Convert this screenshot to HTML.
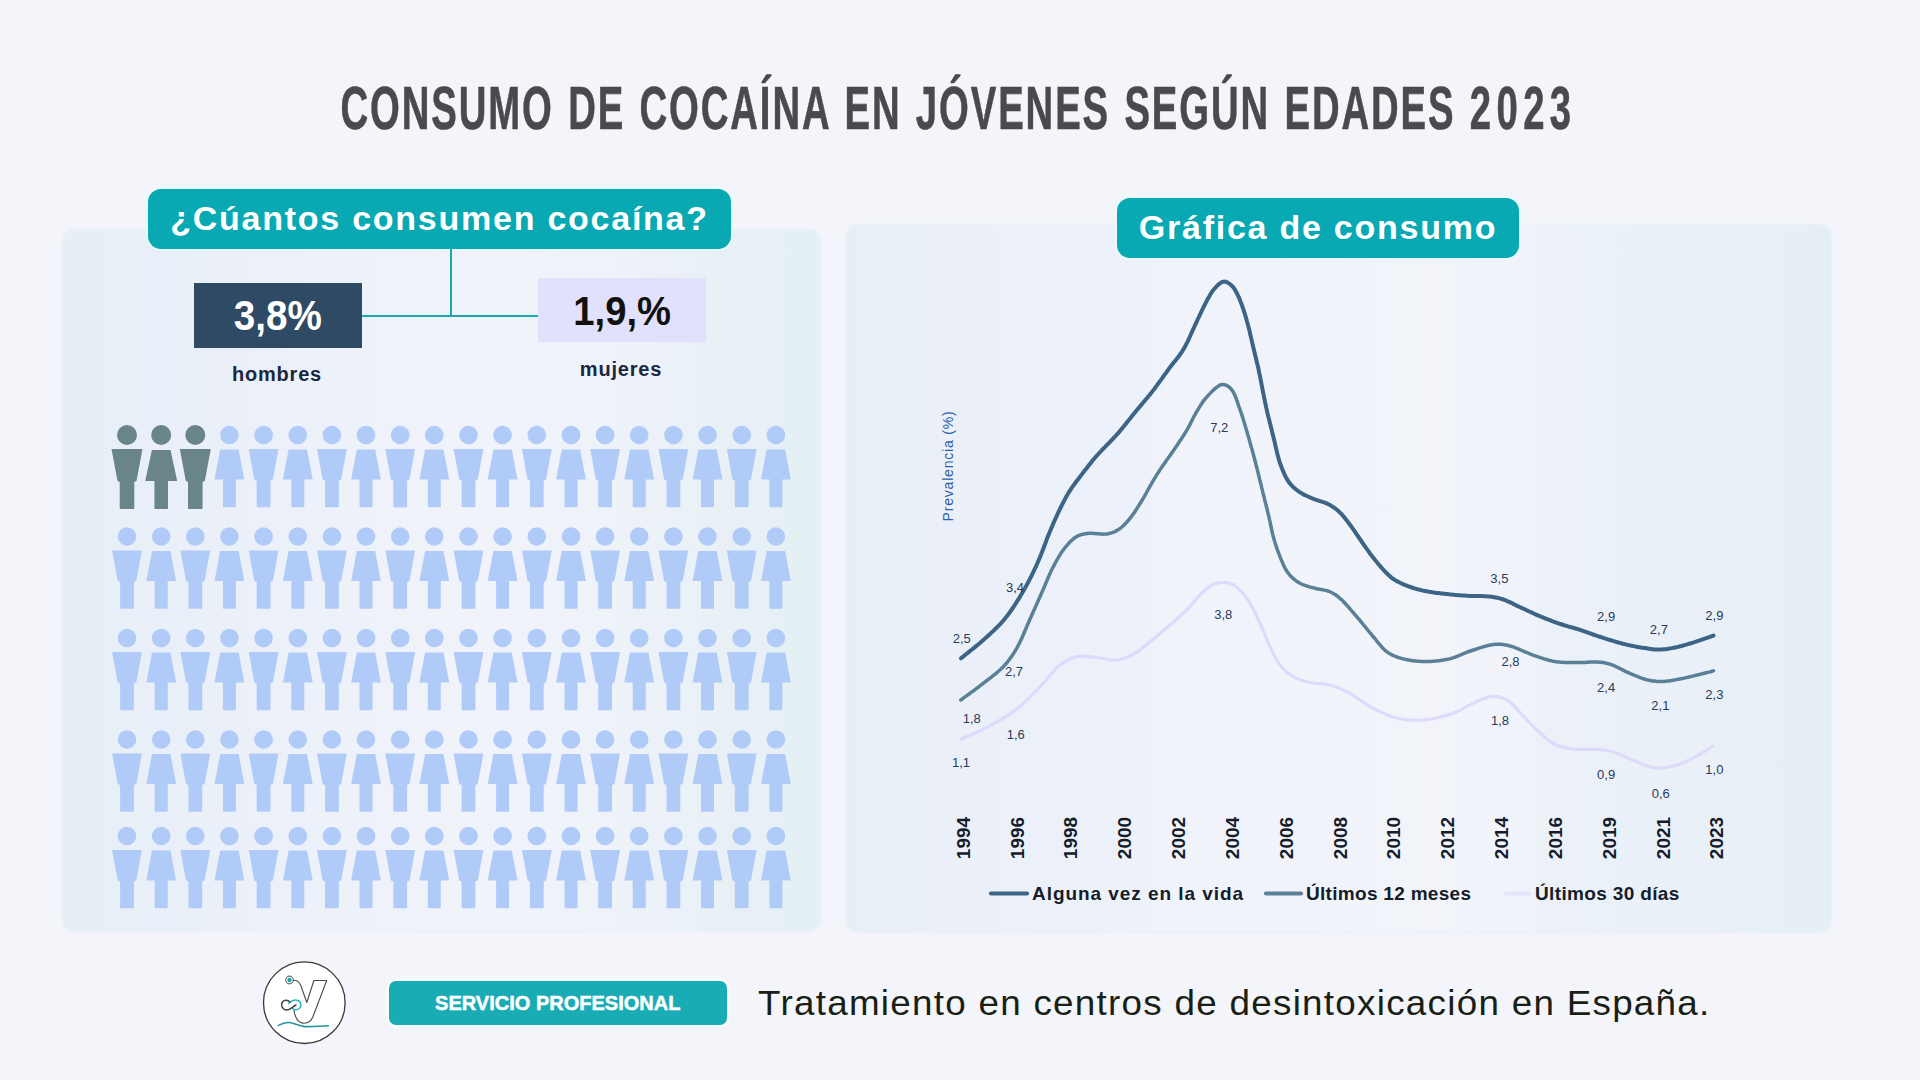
<!DOCTYPE html>
<html><head><meta charset="utf-8">
<style>
*{margin:0;padding:0;box-sizing:border-box}
html,body{width:1920px;height:1080px;overflow:hidden;background:#f4f5fb;font-family:"Liberation Sans",sans-serif}
.abs{position:absolute}
#title{position:absolute;left:-24px;top:70px;width:1920px;text-align:center;font-weight:bold;font-size:61px;color:#4a4a4d;line-height:76px;white-space:nowrap}
#title span{display:inline-block;transform:scaleX(0.628);transform-origin:center;-webkit-text-stroke:0.6px #4a4a4d;word-spacing:3px;letter-spacing:3px}
.panel{position:absolute;border-radius:12px;box-shadow:0 0 2px 0.5px rgba(228,238,245,0.9)}
#p1{background:linear-gradient(90deg,#e4f0f5 0%,#e7eff6 3%,#e9eff8 12%,#edf1f9 35%,#f1f3fa 55%,#eef2f9 72%,#e8f0f6 88%,#e4f0f5 100%)}
#p2{background:linear-gradient(90deg,#e4f0f5 0%,#e8eff7 3%,#ebf0f8 10%,#edf1f9 30%,#f1f3fa 32.5%,#f2f4fa 60%,#f1f3fa 69%,#ecf1f8 70.5%,#e9f0f7 88%,#e4eff5 100%)}
.tag{position:absolute;background:#08a9b3;border-radius:13px;color:#fff;font-weight:bold;text-align:center;box-shadow:0 0 0 2px #e8fafb;white-space:nowrap}
.box{position:absolute;font-weight:bold;text-align:center}
.lbl{position:absolute;font-weight:bold;color:#1a2740;text-align:center;white-space:nowrap;letter-spacing:0.8px}
svg{position:absolute;left:0;top:0}
.l{fill:#b1cbf9}
.d{fill:#6a8589}
</style></head><body>
<div id="title"><span>CONSUMO DE COCAÍNA EN JÓVENES SEGÚN EDADES <b style="letter-spacing:8.5px;margin-right:-8.5px">2023</b></span></div>
<div class="panel" id="p1" style="left:63px;top:230px;width:757px;height:701px"></div>
<div class="panel" id="p2" style="left:847px;top:225px;width:984px;height:707px"></div>
<div class="tag" style="left:148px;top:189px;width:583px;height:60px;font-size:34px;line-height:58px;letter-spacing:1.75px">¿Cúantos consumen cocaína?</div>
<div class="tag" style="left:1117px;top:198px;width:402px;height:60px;font-size:34px;line-height:58px;letter-spacing:1.75px">Gráfica de consumo</div>
<div class="abs" style="left:450px;top:249px;width:1.5px;height:67px;background:#1aa6ae"></div>
<div class="abs" style="left:362px;top:315px;width:177px;height:1.5px;background:#1aa6ae"></div>
<div class="box" style="left:194px;top:283px;width:168px;height:65px;background:#2f4a64;color:#fff;font-size:42px;line-height:65px"><span style="display:inline-block;transform:scaleX(0.92);position:relative;top:0px">3,8%</span></div>
<div class="box" style="left:538px;top:278px;width:168px;height:64px;background:#e2e1fb;color:#111;font-size:40px;line-height:64px"><span style="display:inline-block;transform:scaleX(0.955);position:relative;top:0.5px">1,9,%</span></div>
<div class="lbl" style="left:197px;top:360px;width:160px;font-size:20px;line-height:28px">hombres</div>
<div class="lbl" style="left:541px;top:355px;width:160px;font-size:20px;line-height:28px">mujeres</div>
<svg width="1920" height="1080" viewBox="0 0 1920 1080">
<defs>
<g id="m"><circle cx="0" cy="0" r="9.3"/><path d="M-14.9,14 L14.9,14 L9.3,44.5 L6.9,45.5 L6.9,71.3 Q6.9,72.3 5.9,72.3 L-5.9,72.3 Q-6.9,72.3 -6.9,71.3 L-6.9,45.5 L-9.3,44.5 Z"/></g>
<g id="f"><circle cx="0" cy="0" r="9.3"/><path d="M-9.2,14.5 L9.2,14.5 L14.9,44.5 L6.5,44.5 L6.5,71.3 Q6.5,72.3 5.5,72.3 L-5.5,72.3 Q-6.5,72.3 -6.5,71.3 L-6.5,44.5 L-14.9,44.5 Z"/></g>
<g id="md"><circle cx="0" cy="0" r="10"/><path d="M-15.5,14 L15.5,14 L9.5,46 L7.3,47 L7.3,73 Q7.3,74 6.3,74 L-6.3,74 Q-7.3,74 -7.3,73 L-7.3,47 L-9.5,46 Z"/></g>
<g id="fd"><circle cx="0" cy="0" r="10"/><path d="M-9.3,15 L9.3,15 L16,46 L6.8,46 L6.8,73 Q6.8,74 5.8,74 L-5.8,74 Q-6.8,74 -6.8,73 L-6.8,46 L-16,46 Z"/></g>
</defs>
<style>
.v{font-family:"Liberation Sans",sans-serif;font-size:13px;fill:#2a3a58;text-anchor:middle}
.yr{font-family:"Liberation Sans",sans-serif;font-size:19px;font-weight:bold;fill:#151d2a;text-anchor:middle}
.pv{font-family:"Liberation Sans",sans-serif;font-size:14px;fill:#2c5fab;text-anchor:middle}
.lg{font-family:"Liberation Sans",sans-serif;font-size:19px;font-weight:bold;fill:#151d2a}
</style>
<use href="#md" x="127.0" y="435.0" class="d"/>
<use href="#fd" x="161.2" y="435.0" class="d"/>
<use href="#md" x="195.3" y="435.0" class="d"/>
<use href="#f" x="229.4" y="435.0" class="l"/>
<use href="#m" x="263.6" y="435.0" class="l"/>
<use href="#f" x="297.8" y="435.0" class="l"/>
<use href="#m" x="331.9" y="435.0" class="l"/>
<use href="#f" x="366.0" y="435.0" class="l"/>
<use href="#m" x="400.2" y="435.0" class="l"/>
<use href="#f" x="434.3" y="435.0" class="l"/>
<use href="#m" x="468.5" y="435.0" class="l"/>
<use href="#f" x="502.6" y="435.0" class="l"/>
<use href="#m" x="536.8" y="435.0" class="l"/>
<use href="#f" x="571.0" y="435.0" class="l"/>
<use href="#m" x="605.1" y="435.0" class="l"/>
<use href="#f" x="639.2" y="435.0" class="l"/>
<use href="#m" x="673.4" y="435.0" class="l"/>
<use href="#f" x="707.5" y="435.0" class="l"/>
<use href="#m" x="741.7" y="435.0" class="l"/>
<use href="#f" x="775.9" y="435.0" class="l"/>
<use href="#m" x="127.0" y="536.5" class="l"/>
<use href="#f" x="161.2" y="536.5" class="l"/>
<use href="#m" x="195.3" y="536.5" class="l"/>
<use href="#f" x="229.4" y="536.5" class="l"/>
<use href="#m" x="263.6" y="536.5" class="l"/>
<use href="#f" x="297.8" y="536.5" class="l"/>
<use href="#m" x="331.9" y="536.5" class="l"/>
<use href="#f" x="366.0" y="536.5" class="l"/>
<use href="#m" x="400.2" y="536.5" class="l"/>
<use href="#f" x="434.3" y="536.5" class="l"/>
<use href="#m" x="468.5" y="536.5" class="l"/>
<use href="#f" x="502.6" y="536.5" class="l"/>
<use href="#m" x="536.8" y="536.5" class="l"/>
<use href="#f" x="571.0" y="536.5" class="l"/>
<use href="#m" x="605.1" y="536.5" class="l"/>
<use href="#f" x="639.2" y="536.5" class="l"/>
<use href="#m" x="673.4" y="536.5" class="l"/>
<use href="#f" x="707.5" y="536.5" class="l"/>
<use href="#m" x="741.7" y="536.5" class="l"/>
<use href="#f" x="775.9" y="536.5" class="l"/>
<use href="#m" x="127.0" y="638.0" class="l"/>
<use href="#f" x="161.2" y="638.0" class="l"/>
<use href="#m" x="195.3" y="638.0" class="l"/>
<use href="#f" x="229.4" y="638.0" class="l"/>
<use href="#m" x="263.6" y="638.0" class="l"/>
<use href="#f" x="297.8" y="638.0" class="l"/>
<use href="#m" x="331.9" y="638.0" class="l"/>
<use href="#f" x="366.0" y="638.0" class="l"/>
<use href="#m" x="400.2" y="638.0" class="l"/>
<use href="#f" x="434.3" y="638.0" class="l"/>
<use href="#m" x="468.5" y="638.0" class="l"/>
<use href="#f" x="502.6" y="638.0" class="l"/>
<use href="#m" x="536.8" y="638.0" class="l"/>
<use href="#f" x="571.0" y="638.0" class="l"/>
<use href="#m" x="605.1" y="638.0" class="l"/>
<use href="#f" x="639.2" y="638.0" class="l"/>
<use href="#m" x="673.4" y="638.0" class="l"/>
<use href="#f" x="707.5" y="638.0" class="l"/>
<use href="#m" x="741.7" y="638.0" class="l"/>
<use href="#f" x="775.9" y="638.0" class="l"/>
<use href="#m" x="127.0" y="739.5" class="l"/>
<use href="#f" x="161.2" y="739.5" class="l"/>
<use href="#m" x="195.3" y="739.5" class="l"/>
<use href="#f" x="229.4" y="739.5" class="l"/>
<use href="#m" x="263.6" y="739.5" class="l"/>
<use href="#f" x="297.8" y="739.5" class="l"/>
<use href="#m" x="331.9" y="739.5" class="l"/>
<use href="#f" x="366.0" y="739.5" class="l"/>
<use href="#m" x="400.2" y="739.5" class="l"/>
<use href="#f" x="434.3" y="739.5" class="l"/>
<use href="#m" x="468.5" y="739.5" class="l"/>
<use href="#f" x="502.6" y="739.5" class="l"/>
<use href="#m" x="536.8" y="739.5" class="l"/>
<use href="#f" x="571.0" y="739.5" class="l"/>
<use href="#m" x="605.1" y="739.5" class="l"/>
<use href="#f" x="639.2" y="739.5" class="l"/>
<use href="#m" x="673.4" y="739.5" class="l"/>
<use href="#f" x="707.5" y="739.5" class="l"/>
<use href="#m" x="741.7" y="739.5" class="l"/>
<use href="#f" x="775.9" y="739.5" class="l"/>
<use href="#m" x="127.0" y="836.0" class="l"/>
<use href="#f" x="161.2" y="836.0" class="l"/>
<use href="#m" x="195.3" y="836.0" class="l"/>
<use href="#f" x="229.4" y="836.0" class="l"/>
<use href="#m" x="263.6" y="836.0" class="l"/>
<use href="#f" x="297.8" y="836.0" class="l"/>
<use href="#m" x="331.9" y="836.0" class="l"/>
<use href="#f" x="366.0" y="836.0" class="l"/>
<use href="#m" x="400.2" y="836.0" class="l"/>
<use href="#f" x="434.3" y="836.0" class="l"/>
<use href="#m" x="468.5" y="836.0" class="l"/>
<use href="#f" x="502.6" y="836.0" class="l"/>
<use href="#m" x="536.8" y="836.0" class="l"/>
<use href="#f" x="571.0" y="836.0" class="l"/>
<use href="#m" x="605.1" y="836.0" class="l"/>
<use href="#f" x="639.2" y="836.0" class="l"/>
<use href="#m" x="673.4" y="836.0" class="l"/>
<use href="#f" x="707.5" y="836.0" class="l"/>
<use href="#m" x="741.7" y="836.0" class="l"/>
<use href="#f" x="775.9" y="836.0" class="l"/>
<path d="M960.8,739.2 L962.2,738.6 L963.6,738.0 L965.0,737.4 L966.4,736.8 L967.8,736.2 L969.2,735.6 L970.6,735.0 L972.0,734.4 L973.4,733.8 L974.8,733.2 L976.2,732.5 L977.6,731.9 L979.0,731.3 L980.5,730.6 L981.9,729.9 L983.3,729.2 L984.6,728.5 L985.9,727.9 L987.3,727.2 L988.6,726.5 L990.0,725.7 L991.3,725.0 L992.7,724.3 L994.1,723.5 L995.4,722.8 L996.8,722.0 L998.2,721.3 L999.5,720.5 L1000.8,719.7 L1002.1,718.9 L1003.4,718.1 L1004.7,717.4 L1005.9,716.6 L1007.1,715.8 L1008.4,715.0 L1009.6,714.1 L1010.9,713.2 L1012.2,712.3 L1013.4,711.4 L1014.6,710.5 L1015.8,709.5 L1016.9,708.6 L1018.1,707.7 L1019.2,706.7 L1020.4,705.8 L1021.5,704.8 L1022.7,703.8 L1023.8,702.7 L1025.0,701.7 L1026.1,700.7 L1027.2,699.7 L1028.3,698.7 L1029.3,697.6 L1030.4,696.6 L1031.5,695.5 L1032.6,694.4 L1033.7,693.3 L1034.8,692.2 L1035.9,691.1 L1036.9,690.0 L1038.0,688.9 L1039.1,687.7 L1040.1,686.6 L1041.2,685.5 L1042.3,684.4 L1043.3,683.3 L1044.4,682.1 L1045.4,681.0 L1046.5,679.7 L1047.5,678.5 L1048.5,677.3 L1049.5,676.1 L1050.5,674.8 L1051.6,673.6 L1052.6,672.4 L1053.6,671.2 L1054.6,670.1 L1055.7,668.9 L1056.7,667.9 L1057.8,666.9 L1058.9,665.9 L1060.1,665.0 L1061.3,664.0 L1062.6,663.1 L1064.0,662.2 L1065.3,661.4 L1066.7,660.6 L1068.1,659.9 L1069.5,659.2 L1070.9,658.6 L1072.3,658.0 L1073.8,657.5 L1075.2,657.1 L1076.7,656.7 L1078.2,656.5 L1079.6,656.3 L1081.1,656.2 L1082.7,656.2 L1084.2,656.3 L1085.8,656.4 L1087.3,656.5 L1088.9,656.6 L1090.5,656.8 L1092.0,657.0 L1093.6,657.2 L1095.2,657.3 L1096.7,657.5 L1098.3,657.7 L1099.8,657.9 L1101.4,658.2 L1102.9,658.4 L1104.5,658.7 L1106.1,659.0 L1107.6,659.3 L1109.2,659.6 L1110.7,659.8 L1112.2,660.0 L1113.7,660.1 L1115.2,660.0 L1116.7,659.9 L1118.3,659.7 L1119.8,659.5 L1121.4,659.1 L1122.9,658.7 L1124.4,658.2 L1125.9,657.6 L1127.4,657.0 L1128.9,656.4 L1130.4,655.7 L1131.8,654.9 L1133.3,654.2 L1134.6,653.4 L1135.9,652.6 L1137.2,651.8 L1138.5,650.9 L1139.8,649.9 L1141.0,649.0 L1142.3,648.0 L1143.6,647.0 L1144.8,645.9 L1146.1,644.9 L1147.4,643.8 L1148.7,642.8 L1149.9,641.8 L1151.1,640.8 L1152.3,639.9 L1153.5,638.9 L1154.6,638.0 L1155.8,637.0 L1157.0,636.0 L1158.2,635.0 L1159.4,634.1 L1160.6,633.1 L1161.8,632.0 L1163.0,631.0 L1164.2,630.0 L1165.3,629.0 L1166.5,628.0 L1167.7,627.0 L1168.9,626.0 L1170.0,625.0 L1171.2,624.0 L1172.4,622.9 L1173.5,621.9 L1174.7,620.9 L1175.9,619.9 L1177.0,618.8 L1178.2,617.8 L1179.3,616.8 L1180.5,615.7 L1181.6,614.7 L1182.7,613.6 L1183.9,612.6 L1185.0,611.5 L1186.1,610.5 L1187.2,609.4 L1188.3,608.3 L1189.4,607.2 L1190.5,606.0 L1191.5,604.8 L1192.6,603.6 L1193.7,602.3 L1194.7,601.1 L1195.8,599.8 L1196.8,598.6 L1197.8,597.4 L1198.9,596.2 L1199.9,595.0 L1200.9,593.9 L1202.0,592.8 L1203.0,591.8 L1204.0,590.9 L1205.2,589.9 L1206.5,588.9 L1207.9,587.8 L1209.3,586.8 L1210.8,585.9 L1212.2,585.1 L1213.7,584.4 L1215.2,583.8 L1216.7,583.4 L1218.3,583.0 L1220.0,582.7 L1221.7,582.5 L1223.4,582.5 L1225.1,582.5 L1226.8,582.7 L1228.4,583.0 L1229.9,583.4 L1231.4,583.9 L1232.7,584.5 L1234.0,585.2 L1235.2,586.0 L1236.5,586.9 L1237.6,587.9 L1238.8,588.9 L1239.9,590.0 L1241.0,591.0 L1241.9,592.0 L1242.9,593.1 L1243.8,594.3 L1244.7,595.5 L1245.6,596.7 L1246.5,598.0 L1247.4,599.3 L1248.3,600.6 L1249.1,601.9 L1250.0,603.3 L1250.8,604.6 L1251.5,605.9 L1252.3,607.2 L1253.0,608.6 L1253.7,610.0 L1254.4,611.4 L1255.1,612.9 L1255.8,614.3 L1256.5,615.8 L1257.2,617.3 L1257.9,618.8 L1258.6,620.3 L1259.3,621.8 L1260.0,623.3 L1260.6,624.7 L1261.3,626.2 L1261.9,627.6 L1262.5,629.1 L1263.1,630.6 L1263.8,632.1 L1264.4,633.6 L1265.0,635.1 L1265.6,636.6 L1266.2,638.1 L1266.8,639.6 L1267.4,641.0 L1268.1,642.5 L1268.7,643.9 L1269.4,645.3 L1270.0,646.8 L1270.7,648.2 L1271.4,649.7 L1272.2,651.2 L1272.9,652.7 L1273.6,654.2 L1274.3,655.7 L1275.0,657.1 L1275.8,658.5 L1276.6,659.9 L1277.4,661.2 L1278.2,662.5 L1279.1,663.8 L1280.1,665.0 L1281.1,666.3 L1282.2,667.5 L1283.3,668.7 L1284.4,669.8 L1285.6,671.0 L1286.8,672.0 L1288.1,673.1 L1289.3,674.0 L1290.6,675.0 L1292.0,675.8 L1293.3,676.7 L1294.7,677.4 L1296.1,678.1 L1297.6,678.8 L1299.1,679.4 L1300.6,679.9 L1302.1,680.4 L1303.6,680.9 L1305.2,681.3 L1306.8,681.7 L1308.4,682.1 L1310.0,682.5 L1311.5,682.8 L1313.0,683.0 L1314.5,683.2 L1316.1,683.4 L1317.6,683.5 L1319.2,683.6 L1320.8,683.8 L1322.4,683.9 L1323.9,684.0 L1325.5,684.2 L1327.0,684.4 L1328.5,684.7 L1330.0,685.0 L1331.6,685.5 L1333.2,686.0 L1334.8,686.5 L1336.3,687.0 L1337.9,687.6 L1339.4,688.3 L1340.9,688.9 L1342.4,689.6 L1343.8,690.3 L1345.3,691.0 L1346.7,691.7 L1348.1,692.5 L1349.5,693.2 L1350.8,694.0 L1352.1,694.8 L1353.4,695.7 L1354.7,696.5 L1356.0,697.4 L1357.3,698.3 L1358.6,699.1 L1360.0,700.0 L1361.3,700.8 L1362.5,701.6 L1363.8,702.5 L1365.1,703.4 L1366.4,704.2 L1367.7,705.1 L1369.0,705.9 L1370.3,706.8 L1371.7,707.6 L1373.1,708.4 L1374.5,709.2 L1375.9,709.9 L1377.3,710.6 L1378.6,711.2 L1379.9,711.8 L1381.2,712.4 L1382.6,713.0 L1384.0,713.6 L1385.4,714.2 L1386.8,714.7 L1388.2,715.3 L1389.7,715.8 L1391.2,716.3 L1392.6,716.8 L1394.1,717.2 L1395.6,717.7 L1397.1,718.0 L1398.5,718.4 L1400.0,718.7 L1401.5,719.0 L1403.0,719.2 L1404.5,719.4 L1406.1,719.6 L1407.6,719.8 L1409.2,719.9 L1410.7,720.0 L1412.3,720.0 L1413.9,720.1 L1415.5,720.1 L1417.0,720.1 L1418.6,720.1 L1420.2,720.0 L1421.7,720.0 L1423.3,719.9 L1424.8,719.7 L1426.4,719.6 L1427.9,719.4 L1429.4,719.2 L1430.9,719.0 L1432.4,718.8 L1433.9,718.5 L1435.4,718.2 L1436.9,717.9 L1438.4,717.6 L1439.9,717.3 L1441.3,716.9 L1442.8,716.5 L1444.3,716.1 L1445.8,715.7 L1447.2,715.3 L1448.6,714.8 L1450.0,714.4 L1451.4,713.9 L1452.8,713.4 L1454.3,712.8 L1455.8,712.2 L1457.2,711.5 L1458.7,710.8 L1460.1,710.1 L1461.5,709.4 L1462.9,708.6 L1464.3,707.8 L1465.6,707.1 L1467.0,706.3 L1468.4,705.6 L1469.8,704.9 L1471.1,704.2 L1472.5,703.5 L1473.9,702.9 L1475.4,702.2 L1476.9,701.6 L1478.5,700.9 L1480.0,700.2 L1481.5,699.6 L1483.0,699.0 L1484.6,698.4 L1486.1,697.8 L1487.6,697.4 L1489.0,697.0 L1490.5,696.7 L1491.9,696.5 L1493.4,696.4 L1495.0,696.4 L1496.6,696.5 L1498.2,696.7 L1499.7,697.1 L1501.3,697.5 L1502.8,698.0 L1504.3,698.7 L1505.8,699.4 L1507.2,700.2 L1508.5,701.0 L1509.7,701.9 L1510.8,702.8 L1512.0,703.9 L1513.1,705.0 L1514.2,706.1 L1515.4,707.4 L1516.5,708.6 L1517.6,709.9 L1518.7,711.1 L1519.8,712.4 L1521.0,713.6 L1522.1,714.8 L1523.2,716.0 L1524.3,717.1 L1525.5,718.3 L1526.6,719.5 L1527.7,720.6 L1528.8,721.8 L1529.9,723.0 L1531.0,724.1 L1532.2,725.3 L1533.3,726.4 L1534.4,727.6 L1535.6,728.7 L1536.7,729.8 L1537.8,730.8 L1539.0,731.9 L1540.2,733.0 L1541.4,734.0 L1542.5,735.1 L1543.7,736.1 L1544.9,737.2 L1546.1,738.2 L1547.3,739.2 L1548.5,740.1 L1549.7,741.0 L1551.0,741.9 L1552.2,742.7 L1553.5,743.5 L1554.9,744.2 L1556.3,744.9 L1557.7,745.5 L1559.2,746.0 L1560.7,746.5 L1562.3,746.9 L1563.8,747.3 L1565.4,747.7 L1567.0,748.0 L1568.6,748.3 L1570.3,748.5 L1571.9,748.8 L1573.4,749.0 L1574.9,749.1 L1576.3,749.2 L1577.9,749.3 L1579.4,749.3 L1581.0,749.3 L1582.6,749.3 L1584.2,749.3 L1585.8,749.3 L1587.4,749.3 L1589.0,749.3 L1590.6,749.3 L1592.1,749.3 L1593.6,749.3 L1595.1,749.4 L1596.5,749.4 L1598.0,749.5 L1599.5,749.6 L1601.2,749.8 L1602.8,749.9 L1604.3,750.1 L1605.8,750.3 L1607.3,750.5 L1608.8,750.8 L1610.4,751.1 L1611.9,751.5 L1613.4,751.9 L1614.8,752.4 L1616.3,752.9 L1617.7,753.5 L1619.2,754.1 L1620.7,754.7 L1622.2,755.4 L1623.7,756.1 L1625.2,756.7 L1626.7,757.4 L1628.1,758.0 L1629.6,758.7 L1631.1,759.3 L1632.5,759.9 L1634.0,760.5 L1635.5,761.2 L1637.0,761.8 L1638.4,762.4 L1639.9,763.1 L1641.4,763.7 L1642.8,764.3 L1644.2,764.9 L1645.6,765.4 L1647.0,765.9 L1648.3,766.3 L1649.7,766.7 L1651.3,767.1 L1652.8,767.4 L1654.4,767.7 L1655.9,767.9 L1657.5,768.0 L1659.0,768.1 L1660.6,768.1 L1662.1,768.0 L1663.6,767.9 L1665.0,767.7 L1666.5,767.5 L1668.1,767.2 L1669.6,766.9 L1671.2,766.5 L1672.7,766.1 L1674.3,765.7 L1675.8,765.3 L1677.4,764.8 L1678.8,764.3 L1680.2,763.8 L1681.7,763.2 L1683.1,762.7 L1684.6,762.0 L1686.0,761.4 L1687.4,760.7 L1688.9,760.1 L1690.3,759.4 L1691.7,758.7 L1693.1,757.9 L1694.5,757.2 L1695.9,756.5 L1697.2,755.8 L1698.5,755.0 L1699.8,754.3 L1701.1,753.5 L1702.4,752.7 L1703.7,751.9 L1705.0,751.1 L1706.2,750.3 L1707.5,749.5 L1708.8,748.7 L1710.0,747.9 L1711.3,747.1 L1712.6,746.3" fill="none" stroke="#dedafb" stroke-width="3.2" stroke-linecap="round"/>
<path d="M960.8,700.0 L962.1,699.1 L963.3,698.1 L964.6,697.2 L965.8,696.3 L967.1,695.4 L968.4,694.5 L969.6,693.5 L970.9,692.6 L972.2,691.7 L973.4,690.8 L974.7,689.8 L975.9,688.9 L977.2,688.0 L978.4,687.0 L979.6,686.1 L980.9,685.2 L982.1,684.2 L983.3,683.3 L984.5,682.3 L985.8,681.4 L987.0,680.4 L988.2,679.5 L989.5,678.6 L990.7,677.6 L991.9,676.7 L993.2,675.7 L994.4,674.7 L995.6,673.8 L996.7,672.8 L997.9,671.8 L999.0,670.8 L1000.1,669.8 L1001.2,668.8 L1002.3,667.7 L1003.3,666.7 L1004.3,665.6 L1005.3,664.4 L1006.3,663.3 L1007.3,662.1 L1008.2,661.0 L1009.1,659.8 L1010.0,658.6 L1010.9,657.4 L1011.7,656.2 L1012.6,654.9 L1013.4,653.7 L1014.2,652.4 L1015.1,651.0 L1015.9,649.7 L1016.7,648.3 L1017.4,647.0 L1018.1,645.7 L1018.8,644.4 L1019.5,643.1 L1020.1,641.7 L1020.8,640.3 L1021.5,638.9 L1022.1,637.5 L1022.7,636.0 L1023.4,634.6 L1024.0,633.1 L1024.6,631.6 L1025.2,630.1 L1025.9,628.7 L1026.5,627.2 L1027.1,625.7 L1027.7,624.3 L1028.4,622.8 L1029.0,621.4 L1029.6,620.0 L1030.2,618.6 L1030.9,617.2 L1031.5,615.7 L1032.1,614.3 L1032.8,612.9 L1033.4,611.5 L1034.0,610.1 L1034.7,608.7 L1035.3,607.3 L1035.9,605.9 L1036.5,604.5 L1037.1,603.1 L1037.8,601.7 L1038.4,600.3 L1039.0,598.9 L1039.6,597.5 L1040.3,596.1 L1040.9,594.7 L1041.5,593.3 L1042.1,591.9 L1042.7,590.5 L1043.3,589.0 L1044.0,587.6 L1044.6,586.2 L1045.2,584.7 L1045.8,583.3 L1046.4,581.8 L1047.0,580.4 L1047.6,579.0 L1048.2,577.5 L1048.8,576.1 L1049.4,574.7 L1050.1,573.3 L1050.7,572.0 L1051.3,570.6 L1052.0,569.3 L1052.6,568.0 L1053.3,566.7 L1054.1,565.3 L1054.8,563.9 L1055.6,562.5 L1056.3,561.1 L1057.1,559.7 L1057.9,558.4 L1058.6,557.1 L1059.4,555.7 L1060.2,554.5 L1061.0,553.2 L1061.8,552.0 L1062.7,550.8 L1063.5,549.6 L1064.4,548.5 L1065.3,547.3 L1066.3,546.1 L1067.4,544.8 L1068.6,543.5 L1069.7,542.3 L1070.9,541.1 L1072.1,540.0 L1073.3,538.9 L1074.5,538.0 L1075.7,537.1 L1077.1,536.3 L1078.4,535.7 L1079.8,535.1 L1081.2,534.6 L1082.7,534.2 L1084.2,533.9 L1085.7,533.7 L1087.3,533.5 L1088.9,533.3 L1090.4,533.3 L1092.0,533.3 L1093.6,533.4 L1095.3,533.5 L1097.0,533.7 L1098.7,533.8 L1100.4,534.0 L1102.0,534.1 L1103.6,534.2 L1105.2,534.1 L1106.7,533.9 L1108.3,533.7 L1109.9,533.3 L1111.4,532.9 L1112.9,532.4 L1114.3,531.8 L1115.7,531.1 L1117.1,530.4 L1118.4,529.6 L1119.6,528.8 L1120.8,527.9 L1121.9,527.0 L1123.0,526.0 L1124.1,524.9 L1125.2,523.8 L1126.2,522.7 L1127.3,521.5 L1128.3,520.3 L1129.4,519.0 L1130.4,517.8 L1131.3,516.7 L1132.2,515.5 L1133.0,514.3 L1133.9,513.1 L1134.8,511.9 L1135.6,510.6 L1136.4,509.3 L1137.3,508.0 L1138.1,506.7 L1138.9,505.3 L1139.7,504.0 L1140.6,502.7 L1141.4,501.3 L1142.2,500.0 L1143.0,498.6 L1143.8,497.3 L1144.7,495.9 L1145.5,494.4 L1146.3,493.0 L1147.1,491.5 L1147.9,490.0 L1148.7,488.6 L1149.5,487.2 L1150.3,485.7 L1151.1,484.4 L1151.8,483.0 L1152.6,481.7 L1153.3,480.5 L1154.1,479.2 L1154.9,477.9 L1155.7,476.6 L1156.4,475.3 L1157.2,474.1 L1158.0,472.9 L1158.8,471.7 L1159.6,470.4 L1160.4,469.1 L1161.2,467.9 L1162.0,466.8 L1162.8,465.6 L1163.7,464.4 L1164.6,463.1 L1165.5,461.9 L1166.4,460.6 L1167.3,459.3 L1168.2,458.0 L1169.1,456.7 L1170.1,455.4 L1171.0,454.1 L1171.9,452.8 L1172.8,451.5 L1173.7,450.2 L1174.6,448.9 L1175.5,447.6 L1176.4,446.3 L1177.3,445.0 L1178.1,443.7 L1179.0,442.3 L1179.9,441.0 L1180.8,439.7 L1181.7,438.4 L1182.5,437.0 L1183.4,435.7 L1184.2,434.4 L1185.1,433.1 L1185.9,431.7 L1186.7,430.4 L1187.5,429.0 L1188.3,427.6 L1189.0,426.2 L1189.8,424.8 L1190.5,423.4 L1191.2,422.0 L1191.9,420.6 L1192.6,419.2 L1193.3,417.8 L1194.0,416.4 L1194.8,415.0 L1195.5,413.7 L1196.2,412.4 L1197.0,411.1 L1197.8,409.8 L1198.6,408.5 L1199.4,407.2 L1200.2,405.9 L1201.1,404.6 L1201.9,403.3 L1202.7,402.1 L1203.6,400.9 L1204.5,399.7 L1205.4,398.6 L1206.4,397.4 L1207.4,396.3 L1208.5,395.1 L1209.7,393.9 L1210.9,392.6 L1212.1,391.3 L1213.4,390.1 L1214.7,388.9 L1216.0,387.8 L1217.3,386.8 L1218.6,385.9 L1219.8,385.2 L1221.1,384.8 L1222.4,384.5 L1223.8,384.6 L1225.3,385.0 L1226.9,385.6 L1228.3,386.5 L1229.7,387.6 L1230.9,388.8 L1231.8,389.8 L1232.6,390.9 L1233.2,392.0 L1233.9,393.2 L1234.5,394.5 L1235.1,395.9 L1235.7,397.4 L1236.3,398.9 L1236.8,400.4 L1237.4,401.9 L1237.9,403.5 L1238.4,405.1 L1238.9,406.6 L1239.5,408.1 L1240.0,409.6 L1240.5,411.0 L1241.0,412.5 L1241.5,413.9 L1242.0,415.4 L1242.5,416.8 L1242.9,418.3 L1243.4,419.8 L1243.8,421.2 L1244.3,422.7 L1244.7,424.2 L1245.2,425.7 L1245.6,427.2 L1246.1,428.7 L1246.5,430.3 L1247.0,431.8 L1247.4,433.3 L1247.8,434.7 L1248.2,436.2 L1248.7,437.6 L1249.1,439.1 L1249.5,440.6 L1249.9,442.0 L1250.3,443.5 L1250.7,445.0 L1251.1,446.5 L1251.6,447.9 L1252.0,449.4 L1252.4,450.9 L1252.8,452.4 L1253.2,453.9 L1253.6,455.4 L1254.0,457.0 L1254.4,458.5 L1254.8,460.0 L1255.2,461.4 L1255.6,462.9 L1255.9,464.4 L1256.3,465.8 L1256.7,467.3 L1257.1,468.8 L1257.4,470.2 L1257.8,471.7 L1258.2,473.2 L1258.5,474.7 L1258.9,476.2 L1259.3,477.7 L1259.6,479.2 L1260.0,480.7 L1260.4,482.2 L1260.7,483.7 L1261.1,485.1 L1261.5,486.6 L1261.8,488.1 L1262.2,489.6 L1262.6,491.1 L1262.9,492.6 L1263.3,494.1 L1263.7,495.6 L1264.1,497.1 L1264.4,498.7 L1264.8,500.2 L1265.2,501.7 L1265.6,503.2 L1266.0,504.8 L1266.3,506.3 L1266.7,507.8 L1267.1,509.2 L1267.4,510.7 L1267.8,512.2 L1268.1,513.6 L1268.4,515.0 L1268.8,516.3 L1269.1,517.7 L1269.4,519.1 L1269.8,520.6 L1270.1,522.2 L1270.4,523.7 L1270.7,525.2 L1271.0,526.6 L1271.3,528.1 L1271.6,529.5 L1271.9,530.9 L1272.2,532.3 L1272.6,533.8 L1272.9,535.2 L1273.3,536.7 L1273.7,538.1 L1274.1,539.5 L1274.5,541.0 L1275.0,542.4 L1275.4,543.9 L1275.9,545.3 L1276.4,546.8 L1276.8,548.2 L1277.3,549.7 L1277.9,551.1 L1278.4,552.5 L1278.9,553.9 L1279.5,555.3 L1280.0,556.7 L1280.6,558.2 L1281.2,559.7 L1281.8,561.1 L1282.5,562.6 L1283.1,564.1 L1283.7,565.5 L1284.4,566.9 L1285.1,568.3 L1285.9,569.6 L1286.6,570.9 L1287.5,572.1 L1288.4,573.3 L1289.3,574.5 L1290.4,575.7 L1291.4,576.8 L1292.6,577.9 L1293.7,578.9 L1294.9,579.9 L1296.2,580.8 L1297.4,581.7 L1298.7,582.5 L1300.0,583.3 L1301.4,584.0 L1302.8,584.6 L1304.3,585.2 L1305.8,585.7 L1307.3,586.2 L1308.8,586.6 L1310.4,587.1 L1311.9,587.5 L1313.5,587.9 L1315.0,588.3 L1316.5,588.7 L1318.1,589.0 L1319.6,589.3 L1321.2,589.6 L1322.7,589.8 L1324.3,590.1 L1325.8,590.4 L1327.2,590.8 L1328.6,591.2 L1330.1,591.8 L1331.5,592.5 L1333.0,593.2 L1334.4,594.1 L1335.8,595.0 L1337.2,596.0 L1338.5,597.1 L1339.8,598.2 L1340.9,599.2 L1342.0,600.1 L1343.0,601.1 L1344.0,602.2 L1345.0,603.3 L1346.1,604.4 L1347.1,605.6 L1348.2,606.8 L1349.3,608.0 L1350.4,609.3 L1351.4,610.5 L1352.5,611.8 L1353.6,613.0 L1354.6,614.3 L1355.7,615.5 L1356.7,616.7 L1357.7,617.9 L1358.7,619.0 L1359.7,620.2 L1360.7,621.4 L1361.7,622.6 L1362.7,623.8 L1363.6,625.0 L1364.6,626.2 L1365.6,627.4 L1366.6,628.6 L1367.6,629.8 L1368.5,631.0 L1369.5,632.2 L1370.5,633.3 L1371.4,634.5 L1372.4,635.6 L1373.3,636.8 L1374.4,638.0 L1375.4,639.2 L1376.4,640.5 L1377.4,641.8 L1378.4,643.0 L1379.4,644.2 L1380.4,645.4 L1381.4,646.6 L1382.5,647.7 L1383.5,648.8 L1384.5,649.8 L1385.6,650.8 L1386.8,651.7 L1388.1,652.6 L1389.5,653.5 L1390.9,654.3 L1392.3,655.1 L1393.7,655.7 L1395.2,656.3 L1396.7,656.9 L1398.3,657.5 L1399.9,657.9 L1401.3,658.4 L1402.7,658.7 L1404.1,659.1 L1405.6,659.4 L1407.1,659.7 L1408.6,660.0 L1410.1,660.3 L1411.7,660.5 L1413.3,660.7 L1414.9,660.9 L1416.5,661.1 L1418.1,661.2 L1419.7,661.3 L1421.3,661.4 L1422.9,661.5 L1424.4,661.5 L1425.9,661.5 L1427.5,661.5 L1429.1,661.5 L1430.6,661.4 L1432.2,661.3 L1433.8,661.2 L1435.4,661.1 L1437.0,660.9 L1438.6,660.7 L1440.2,660.5 L1441.7,660.3 L1443.3,660.1 L1444.8,659.8 L1446.3,659.5 L1447.8,659.2 L1449.3,658.9 L1450.8,658.5 L1452.2,658.1 L1453.7,657.6 L1455.1,657.1 L1456.5,656.6 L1457.9,656.0 L1459.2,655.5 L1460.6,654.9 L1462.0,654.3 L1463.3,653.7 L1464.7,653.1 L1466.1,652.6 L1467.5,652.0 L1469.0,651.5 L1470.4,651.0 L1471.9,650.5 L1473.4,650.0 L1475.0,649.5 L1476.6,649.0 L1478.1,648.4 L1479.8,647.9 L1481.4,647.4 L1483.0,646.9 L1484.6,646.5 L1486.1,646.0 L1487.7,645.6 L1489.2,645.3 L1490.7,644.9 L1492.2,644.7 L1493.6,644.5 L1495.1,644.3 L1496.7,644.2 L1498.3,644.2 L1499.8,644.2 L1501.3,644.3 L1502.8,644.5 L1504.3,644.7 L1505.8,645.0 L1507.4,645.3 L1509.0,645.7 L1510.4,646.1 L1511.7,646.5 L1513.1,646.9 L1514.5,647.4 L1515.9,648.0 L1517.4,648.6 L1518.9,649.2 L1520.4,649.8 L1521.9,650.5 L1523.4,651.1 L1524.9,651.8 L1526.4,652.4 L1527.9,653.0 L1529.4,653.7 L1530.8,654.2 L1532.3,654.8 L1533.7,655.3 L1535.2,655.8 L1536.8,656.4 L1538.3,656.9 L1539.7,657.4 L1541.2,657.9 L1542.7,658.4 L1544.2,658.9 L1545.7,659.3 L1547.1,659.7 L1548.6,660.2 L1550.2,660.5 L1551.7,660.9 L1553.2,661.2 L1554.8,661.5 L1556.3,661.7 L1557.9,661.9 L1559.4,662.1 L1561.0,662.2 L1562.6,662.3 L1564.2,662.4 L1565.9,662.5 L1567.5,662.5 L1569.1,662.6 L1570.7,662.6 L1572.3,662.6 L1573.9,662.6 L1575.5,662.6 L1577.0,662.6 L1578.5,662.6 L1580.1,662.6 L1581.8,662.6 L1583.5,662.5 L1585.1,662.4 L1586.8,662.3 L1588.5,662.2 L1590.1,662.1 L1591.7,662.0 L1593.2,662.0 L1594.8,661.9 L1596.3,662.0 L1597.9,662.0 L1599.5,662.2 L1601.1,662.3 L1602.7,662.5 L1604.3,662.8 L1605.8,663.1 L1607.4,663.5 L1609.0,663.9 L1610.6,664.4 L1612.0,664.9 L1613.4,665.4 L1614.8,666.0 L1616.2,666.7 L1617.6,667.4 L1619.1,668.1 L1620.5,668.8 L1622.0,669.6 L1623.5,670.3 L1624.9,671.1 L1626.4,671.8 L1627.8,672.4 L1629.3,673.1 L1630.7,673.7 L1632.2,674.3 L1633.6,674.9 L1635.0,675.5 L1636.5,676.1 L1637.9,676.7 L1639.3,677.3 L1640.8,677.8 L1642.2,678.3 L1643.6,678.8 L1645.0,679.2 L1646.4,679.6 L1647.9,680.0 L1649.5,680.3 L1651.1,680.7 L1652.8,680.9 L1654.4,681.1 L1656.0,681.3 L1657.6,681.4 L1659.2,681.5 L1660.9,681.5 L1662.5,681.5 L1664.1,681.4 L1665.6,681.3 L1667.1,681.1 L1668.6,681.0 L1670.2,680.7 L1671.7,680.5 L1673.3,680.2 L1674.9,679.9 L1676.4,679.6 L1678.0,679.3 L1679.6,679.0 L1681.1,678.7 L1682.7,678.4 L1684.2,678.1 L1685.8,677.7 L1687.4,677.4 L1689.0,677.0 L1690.5,676.6 L1692.1,676.2 L1693.6,675.9 L1695.2,675.5 L1696.7,675.1 L1698.2,674.8 L1699.7,674.4 L1701.2,674.0 L1702.8,673.6 L1704.4,673.2 L1705.9,672.8 L1707.4,672.4 L1708.9,672.1 L1710.5,671.7 L1712.0,671.3 L1713.5,670.9" fill="none" stroke="#5a8097" stroke-width="3.5" stroke-linecap="round"/>
<path d="M961.0,658.3 L962.2,657.3 L963.4,656.4 L964.5,655.4 L965.7,654.5 L966.9,653.5 L968.1,652.6 L969.3,651.6 L970.5,650.7 L971.6,649.8 L972.8,648.8 L974.0,647.9 L975.2,646.9 L976.4,645.9 L977.5,645.0 L978.7,644.0 L979.9,643.0 L981.0,642.0 L982.2,641.0 L983.3,640.0 L984.5,639.0 L985.6,637.9 L986.7,636.9 L987.9,635.9 L989.0,634.9 L990.2,633.8 L991.3,632.8 L992.4,631.7 L993.6,630.7 L994.7,629.6 L995.8,628.5 L996.9,627.4 L998.0,626.3 L999.1,625.2 L1000.2,624.1 L1001.3,622.9 L1002.3,621.7 L1003.4,620.5 L1004.4,619.3 L1005.3,618.2 L1006.2,617.0 L1007.1,615.9 L1008.0,614.7 L1008.9,613.5 L1009.8,612.3 L1010.7,611.0 L1011.6,609.8 L1012.4,608.5 L1013.3,607.3 L1014.1,606.0 L1015.0,604.7 L1015.8,603.4 L1016.6,602.1 L1017.4,600.8 L1018.3,599.5 L1019.1,598.2 L1019.8,596.9 L1020.6,595.6 L1021.4,594.3 L1022.2,593.0 L1022.9,591.7 L1023.7,590.4 L1024.5,589.1 L1025.2,587.7 L1025.9,586.4 L1026.7,585.1 L1027.4,583.7 L1028.1,582.4 L1028.8,581.0 L1029.5,579.7 L1030.2,578.3 L1030.9,576.9 L1031.6,575.6 L1032.2,574.2 L1032.9,572.9 L1033.6,571.5 L1034.2,570.1 L1034.8,568.8 L1035.5,567.4 L1036.1,566.1 L1036.7,564.7 L1037.3,563.4 L1037.9,562.0 L1038.5,560.7 L1039.1,559.3 L1039.7,557.8 L1040.3,556.4 L1040.9,555.0 L1041.4,553.6 L1042.0,552.1 L1042.5,550.7 L1043.1,549.3 L1043.6,547.9 L1044.1,546.5 L1044.6,545.1 L1045.2,543.7 L1045.7,542.3 L1046.2,540.9 L1046.7,539.5 L1047.3,538.1 L1047.8,536.7 L1048.4,535.4 L1048.9,534.0 L1049.5,532.6 L1050.1,531.1 L1050.7,529.7 L1051.3,528.3 L1051.9,526.9 L1052.5,525.4 L1053.1,524.0 L1053.7,522.6 L1054.3,521.2 L1054.9,519.8 L1055.5,518.5 L1056.2,517.1 L1056.8,515.7 L1057.4,514.4 L1058.0,513.0 L1058.7,511.7 L1059.3,510.3 L1060.0,508.9 L1060.7,507.5 L1061.4,506.1 L1062.1,504.7 L1062.8,503.2 L1063.6,501.8 L1064.3,500.5 L1065.0,499.1 L1065.7,497.7 L1066.5,496.4 L1067.2,495.0 L1068.0,493.7 L1068.8,492.4 L1069.6,491.1 L1070.5,489.8 L1071.3,488.5 L1072.2,487.2 L1073.1,485.9 L1074.0,484.7 L1074.9,483.5 L1075.8,482.2 L1076.7,481.0 L1077.7,479.8 L1078.6,478.6 L1079.6,477.3 L1080.5,476.1 L1081.5,474.8 L1082.4,473.6 L1083.3,472.4 L1084.2,471.2 L1085.1,470.1 L1086.0,468.9 L1087.0,467.7 L1087.9,466.5 L1088.8,465.3 L1089.8,464.1 L1090.8,462.9 L1091.7,461.7 L1092.7,460.4 L1093.8,459.2 L1094.8,458.0 L1095.9,456.8 L1096.8,455.6 L1097.8,454.6 L1098.8,453.5 L1099.8,452.4 L1100.9,451.3 L1101.9,450.2 L1103.0,449.0 L1104.1,447.9 L1105.2,446.8 L1106.3,445.7 L1107.4,444.5 L1108.5,443.4 L1109.6,442.3 L1110.7,441.1 L1111.8,440.0 L1112.9,438.9 L1113.9,437.7 L1115.0,436.6 L1116.0,435.5 L1117.0,434.4 L1118.0,433.3 L1119.1,432.1 L1120.1,430.8 L1121.1,429.6 L1122.1,428.4 L1123.1,427.2 L1124.1,426.0 L1125.1,424.8 L1126.1,423.6 L1127.0,422.3 L1128.0,421.1 L1128.9,419.9 L1129.9,418.7 L1130.9,417.5 L1131.8,416.3 L1132.8,415.1 L1133.8,413.8 L1134.8,412.6 L1135.7,411.5 L1136.7,410.3 L1137.6,409.2 L1138.6,408.0 L1139.6,406.9 L1140.5,405.8 L1141.5,404.6 L1142.4,403.5 L1143.4,402.3 L1144.4,401.2 L1145.3,400.0 L1146.3,398.9 L1147.3,397.7 L1148.2,396.5 L1149.2,395.4 L1150.2,394.2 L1151.1,393.0 L1152.1,391.8 L1153.0,390.6 L1153.9,389.4 L1154.9,388.2 L1155.8,386.9 L1156.8,385.6 L1157.7,384.3 L1158.7,383.0 L1159.6,381.7 L1160.6,380.4 L1161.5,379.1 L1162.5,377.8 L1163.4,376.5 L1164.3,375.2 L1165.2,373.9 L1166.1,372.7 L1167.0,371.5 L1167.9,370.3 L1168.7,369.1 L1169.5,368.0 L1170.3,366.9 L1171.2,365.7 L1172.3,364.4 L1173.3,363.0 L1174.4,361.7 L1175.5,360.4 L1176.5,359.2 L1177.4,358.0 L1178.4,356.7 L1179.3,355.5 L1180.2,354.2 L1181.1,352.9 L1182.0,351.6 L1182.9,350.2 L1183.7,348.9 L1184.5,347.5 L1185.3,346.1 L1186.0,344.7 L1186.7,343.3 L1187.4,342.0 L1188.1,340.6 L1188.7,339.2 L1189.4,337.8 L1190.0,336.3 L1190.7,334.8 L1191.3,333.4 L1192.0,331.9 L1192.6,330.4 L1193.3,329.0 L1194.0,327.6 L1194.6,326.1 L1195.3,324.7 L1195.9,323.3 L1196.6,321.8 L1197.3,320.4 L1197.9,319.0 L1198.6,317.5 L1199.3,316.1 L1199.9,314.7 L1200.6,313.3 L1201.3,311.8 L1202.0,310.3 L1202.7,308.9 L1203.4,307.4 L1204.1,305.9 L1204.9,304.5 L1205.6,303.0 L1206.3,301.6 L1207.1,300.2 L1207.8,298.8 L1208.7,297.4 L1209.5,296.0 L1210.3,294.5 L1211.2,293.1 L1212.1,291.7 L1213.0,290.4 L1214.0,289.2 L1215.1,288.0 L1216.2,286.8 L1217.4,285.5 L1218.7,284.4 L1220.0,283.3 L1221.4,282.4 L1222.7,281.9 L1224.1,281.6 L1225.7,281.8 L1227.3,282.4 L1228.9,283.3 L1230.4,284.5 L1231.7,285.6 L1232.9,286.8 L1233.8,288.0 L1234.7,289.4 L1235.5,290.7 L1236.3,292.2 L1237.1,293.7 L1237.8,295.2 L1238.5,296.6 L1239.1,297.9 L1239.7,299.3 L1240.2,300.7 L1240.8,302.1 L1241.3,303.6 L1241.9,305.1 L1242.4,306.5 L1242.9,308.0 L1243.4,309.5 L1243.9,311.0 L1244.4,312.5 L1244.9,314.0 L1245.3,315.5 L1245.8,317.0 L1246.2,318.5 L1246.6,320.0 L1247.0,321.5 L1247.5,323.1 L1247.9,324.6 L1248.3,326.2 L1248.7,327.7 L1249.1,329.2 L1249.4,330.6 L1249.8,332.1 L1250.1,333.5 L1250.4,335.0 L1250.8,336.4 L1251.1,337.9 L1251.5,339.4 L1251.8,340.9 L1252.1,342.4 L1252.5,343.9 L1252.8,345.4 L1253.2,346.8 L1253.5,348.3 L1253.9,349.9 L1254.3,351.4 L1254.6,353.0 L1255.0,354.5 L1255.4,356.1 L1255.8,357.6 L1256.2,359.2 L1256.5,360.7 L1256.9,362.3 L1257.3,363.9 L1257.7,365.5 L1258.0,367.1 L1258.4,368.6 L1258.7,370.2 L1259.0,371.7 L1259.3,373.2 L1259.7,374.7 L1260.0,376.2 L1260.3,377.8 L1260.6,379.3 L1260.9,380.9 L1261.2,382.4 L1261.5,384.0 L1261.8,385.5 L1262.1,387.0 L1262.3,388.5 L1262.6,390.0 L1262.9,391.4 L1263.2,392.9 L1263.5,394.4 L1263.8,395.9 L1264.1,397.5 L1264.4,398.9 L1264.7,400.4 L1265.0,401.8 L1265.3,403.3 L1265.6,404.8 L1266.0,406.3 L1266.3,407.9 L1266.7,409.5 L1267.0,410.9 L1267.3,412.3 L1267.6,413.7 L1268.0,415.1 L1268.3,416.5 L1268.7,418.0 L1269.1,419.5 L1269.4,421.1 L1269.8,422.6 L1270.2,424.1 L1270.6,425.7 L1271.0,427.3 L1271.4,428.8 L1271.8,430.4 L1272.1,431.9 L1272.5,433.4 L1272.9,434.9 L1273.3,436.4 L1273.6,437.9 L1274.0,439.4 L1274.4,440.9 L1274.7,442.4 L1275.1,444.0 L1275.4,445.5 L1275.8,447.0 L1276.1,448.5 L1276.5,450.0 L1276.8,451.5 L1277.2,453.0 L1277.5,454.5 L1277.9,455.9 L1278.3,457.4 L1278.7,458.8 L1279.1,460.2 L1279.5,461.6 L1280.0,463.0 L1280.5,464.5 L1281.1,466.0 L1281.6,467.4 L1282.2,468.9 L1282.8,470.4 L1283.4,471.8 L1284.0,473.3 L1284.6,474.7 L1285.3,476.0 L1286.0,477.4 L1286.7,478.6 L1287.4,479.9 L1288.2,481.1 L1289.0,482.3 L1289.9,483.5 L1291.0,484.7 L1292.1,485.9 L1293.2,487.0 L1294.4,488.1 L1295.6,489.1 L1296.8,490.0 L1298.0,491.0 L1299.3,491.9 L1300.7,492.8 L1302.1,493.6 L1303.5,494.4 L1304.9,495.1 L1306.4,495.8 L1308.0,496.5 L1309.5,497.2 L1311.0,497.8 L1312.6,498.5 L1314.0,499.1 L1315.5,499.6 L1317.0,500.1 L1318.6,500.6 L1320.1,501.1 L1321.7,501.6 L1323.2,502.1 L1324.7,502.6 L1326.2,503.2 L1327.6,503.8 L1328.9,504.5 L1330.4,505.2 L1331.7,506.1 L1333.1,507.0 L1334.4,507.9 L1335.7,508.8 L1336.9,509.8 L1338.1,510.8 L1339.2,511.9 L1340.3,512.9 L1341.4,514.0 L1342.4,515.1 L1343.3,516.2 L1344.3,517.3 L1345.2,518.5 L1346.2,519.7 L1347.1,520.9 L1348.1,522.2 L1349.0,523.3 L1349.8,524.5 L1350.7,525.7 L1351.6,526.9 L1352.4,528.2 L1353.3,529.4 L1354.2,530.7 L1355.0,531.9 L1355.9,533.2 L1356.8,534.5 L1357.6,535.7 L1358.5,537.0 L1359.4,538.2 L1360.2,539.5 L1361.1,540.7 L1361.9,542.0 L1362.8,543.2 L1363.6,544.5 L1364.5,545.7 L1365.4,547.0 L1366.2,548.2 L1367.1,549.4 L1368.0,550.7 L1368.9,551.9 L1369.8,553.2 L1370.8,554.4 L1371.7,555.7 L1372.7,556.9 L1373.7,558.2 L1374.7,559.5 L1375.7,560.7 L1376.7,561.9 L1377.7,563.2 L1378.7,564.4 L1379.7,565.5 L1380.7,566.7 L1381.7,567.9 L1382.8,569.0 L1383.8,570.2 L1384.8,571.3 L1385.9,572.4 L1387.0,573.5 L1388.0,574.6 L1389.1,575.6 L1390.3,576.6 L1391.4,577.6 L1392.6,578.5 L1393.9,579.3 L1395.1,580.1 L1396.4,580.9 L1397.8,581.6 L1399.1,582.3 L1400.5,583.0 L1401.9,583.6 L1403.2,584.2 L1404.6,584.8 L1406.0,585.3 L1407.4,585.9 L1408.9,586.5 L1410.3,587.0 L1411.8,587.5 L1413.2,588.0 L1414.7,588.4 L1416.1,588.8 L1417.6,589.3 L1419.1,589.6 L1420.7,590.0 L1422.1,590.4 L1423.6,590.7 L1425.0,591.0 L1426.4,591.3 L1427.8,591.5 L1429.2,591.8 L1430.7,592.0 L1432.2,592.2 L1433.7,592.5 L1435.2,592.7 L1436.8,592.9 L1438.3,593.1 L1439.9,593.3 L1441.3,593.5 L1442.8,593.6 L1444.2,593.8 L1445.7,594.0 L1447.2,594.1 L1448.8,594.3 L1450.4,594.4 L1452.0,594.6 L1453.6,594.7 L1455.2,594.9 L1456.8,595.0 L1458.4,595.2 L1460.0,595.3 L1461.6,595.4 L1463.2,595.5 L1464.7,595.6 L1466.2,595.7 L1467.6,595.8 L1469.1,595.9 L1470.6,596.0 L1472.2,596.1 L1473.9,596.1 L1475.6,596.1 L1477.2,596.1 L1478.8,596.1 L1480.4,596.1 L1481.9,596.1 L1483.5,596.2 L1485.0,596.2 L1486.5,596.3 L1488.0,596.4 L1489.6,596.6 L1491.2,596.8 L1492.7,597.0 L1494.3,597.2 L1495.8,597.5 L1497.3,597.8 L1498.9,598.1 L1500.4,598.6 L1501.9,599.0 L1503.4,599.5 L1504.9,600.0 L1506.3,600.6 L1507.7,601.3 L1509.2,601.9 L1510.7,602.6 L1512.1,603.3 L1513.6,604.1 L1515.1,604.8 L1516.6,605.6 L1518.2,606.3 L1519.6,607.0 L1521.0,607.6 L1522.4,608.3 L1523.8,608.9 L1525.2,609.5 L1526.6,610.2 L1528.0,610.9 L1529.4,611.5 L1530.8,612.2 L1532.3,612.8 L1533.7,613.5 L1535.1,614.1 L1536.5,614.8 L1538.0,615.4 L1539.4,616.0 L1540.8,616.6 L1542.2,617.2 L1543.6,617.7 L1545.0,618.3 L1546.4,618.9 L1547.9,619.4 L1549.3,620.0 L1550.7,620.5 L1552.1,621.0 L1553.5,621.6 L1555.0,622.1 L1556.4,622.6 L1557.8,623.1 L1559.1,623.6 L1560.5,624.0 L1562.0,624.5 L1563.5,625.0 L1565.0,625.5 L1566.5,625.9 L1568.0,626.4 L1569.5,626.8 L1571.0,627.2 L1572.5,627.6 L1574.0,628.0 L1575.5,628.5 L1577.0,628.9 L1578.5,629.3 L1580.0,629.8 L1581.5,630.3 L1582.9,630.8 L1584.4,631.3 L1585.8,631.8 L1587.2,632.3 L1588.7,632.9 L1590.1,633.4 L1591.6,633.9 L1593.1,634.5 L1594.6,635.0 L1596.2,635.6 L1597.7,636.1 L1599.1,636.5 L1600.5,637.0 L1601.9,637.4 L1603.3,637.9 L1604.7,638.3 L1606.2,638.8 L1607.7,639.3 L1609.2,639.8 L1610.7,640.2 L1612.2,640.7 L1613.8,641.1 L1615.3,641.6 L1616.8,642.0 L1618.3,642.5 L1619.8,642.9 L1621.3,643.3 L1622.7,643.7 L1624.2,644.0 L1625.7,644.4 L1627.2,644.8 L1628.7,645.1 L1630.3,645.5 L1631.9,645.8 L1633.4,646.1 L1635.0,646.4 L1636.5,646.7 L1638.1,647.0 L1639.6,647.2 L1641.0,647.5 L1642.5,647.7 L1643.9,647.9 L1645.2,648.1 L1646.6,648.3 L1648.0,648.5 L1649.5,648.8 L1651.2,649.0 L1652.7,649.2 L1654.2,649.4 L1655.7,649.5 L1657.3,649.6 L1658.9,649.6 L1660.4,649.5 L1662.0,649.5 L1663.6,649.3 L1665.2,649.2 L1666.8,649.0 L1668.5,648.7 L1670.2,648.4 L1671.9,648.1 L1673.6,647.8 L1675.1,647.5 L1676.5,647.2 L1677.9,646.9 L1679.4,646.5 L1680.9,646.1 L1682.4,645.7 L1683.9,645.3 L1685.5,644.8 L1687.0,644.4 L1688.5,643.9 L1690.1,643.5 L1691.6,643.0 L1693.0,642.6 L1694.5,642.1 L1695.9,641.7 L1697.4,641.2 L1699.0,640.7 L1700.4,640.2 L1701.9,639.7 L1703.4,639.2 L1704.8,638.7 L1706.3,638.2 L1707.7,637.7 L1709.2,637.1 L1710.6,636.6 L1712.0,636.1 L1713.5,635.6" fill="none" stroke="#3b6487" stroke-width="4" stroke-linecap="round"/>
<text x="1219.3" y="431.7" class="v">7,2</text>
<text x="961.7" y="643.3" class="v">2,5</text>
<text x="1015" y="591.7" class="v">3,4</text>
<text x="1014" y="675.8" class="v">2,7</text>
<text x="971.7" y="722.5" class="v">1,8</text>
<text x="1015.8" y="739.2" class="v">1,6</text>
<text x="961" y="767" class="v">1,1</text>
<text x="1223.3" y="619.2" class="v">3,8</text>
<text x="1499.4" y="583.4" class="v">3,5</text>
<text x="1606.1" y="621.3" class="v">2,9</text>
<text x="1658.9" y="634.3" class="v">2,7</text>
<text x="1714.4" y="620.2" class="v">2,9</text>
<text x="1510.5" y="665.6" class="v">2,8</text>
<text x="1606.1" y="692.4" class="v">2,4</text>
<text x="1660.4" y="709.6" class="v">2,1</text>
<text x="1714.4" y="698.5" class="v">2,3</text>
<text x="1500" y="724.6" class="v">1,8</text>
<text x="1606.1" y="778.7" class="v">0,9</text>
<text x="1660.7" y="797.6" class="v">0,6</text>
<text x="1714.4" y="773.5" class="v">1,0</text>
<text transform="translate(969.7,838) rotate(-90)" class="yr">1994</text>
<text transform="translate(1023.5,838) rotate(-90)" class="yr">1996</text>
<text transform="translate(1077.4,838) rotate(-90)" class="yr">1998</text>
<text transform="translate(1131.2,838) rotate(-90)" class="yr">2000</text>
<text transform="translate(1185.0,838) rotate(-90)" class="yr">2002</text>
<text transform="translate(1238.8,838) rotate(-90)" class="yr">2004</text>
<text transform="translate(1292.7,838) rotate(-90)" class="yr">2006</text>
<text transform="translate(1346.5,838) rotate(-90)" class="yr">2008</text>
<text transform="translate(1400.3,838) rotate(-90)" class="yr">2010</text>
<text transform="translate(1454.2,838) rotate(-90)" class="yr">2012</text>
<text transform="translate(1508.0,838) rotate(-90)" class="yr">2014</text>
<text transform="translate(1561.8,838) rotate(-90)" class="yr">2016</text>
<text transform="translate(1615.7,838) rotate(-90)" class="yr">2019</text>
<text transform="translate(1669.5,838) rotate(-90)" class="yr">2021</text>
<text transform="translate(1723.3,838) rotate(-90)" class="yr">2023</text>
<text transform="translate(953,466) rotate(-90)" class="pv" style="letter-spacing:0.8px">Prevalencia (%)</text>
<line x1="991" y1="893.5" x2="1027" y2="893.5" stroke="#3c6486" stroke-width="4.2" stroke-linecap="round"/>
<text x="1032" y="900" class="lg" style="letter-spacing:0.95px">Alguna vez en la vida</text>
<line x1="1266" y1="893.5" x2="1301" y2="893.5" stroke="#5b8097" stroke-width="4.2" stroke-linecap="round"/>
<text x="1306" y="900" class="lg" style="letter-spacing:0.3px">Últimos 12 meses</text>
<line x1="1506" y1="893.5" x2="1529" y2="893.5" stroke="#e6e4fb" stroke-width="4.2" stroke-linecap="round"/>
<text x="1535" y="900" class="lg" style="letter-spacing:0.35px">Últimos 30 días</text>
</svg>
<svg class="abs" style="left:0;top:0" width="1920" height="1080">
<circle cx="304.3" cy="1002.7" r="40.8" fill="#fff" stroke="#3a3a3a" stroke-width="1.3"/>
<g fill="none" stroke-linecap="round" stroke-linejoin="round">
<circle cx="289.5" cy="980" r="3.8" stroke="#6b6b6b" stroke-width="1.2" fill="#fff"/>
<circle cx="289.5" cy="980" r="2.2" fill="#1aa3a8" stroke="none"/>
<path d="M293.4,980.2 C297.5,980 299.5,982 300.8,985.5 L306.8,1002.5 L313.9,980.5 L326.7,980.5 L313,1016.5 C311.5,1020.5 308.5,1023.2 304.3,1023.2 C300,1023.2 297.3,1020.5 295.8,1017 C294.5,1014 294,1012 294,1010" stroke="#4a4a4a" stroke-width="1.1"/>
<path d="M288.5,1003.5 C291.5,1001 294,999 298,1000.5 C301.5,1002 302,1007 298.5,1009 C295,1011 292.5,1008.5 292.5,1008" stroke="#2bb5bb" stroke-width="1.4"/>
<path d="M290,1002 C288,1000 284.5,999.5 282.5,1002 C280.5,1004.5 282,1010 287,1010 C290,1010 293,1006.5 296,1005" stroke="#404040" stroke-width="1.4"/>
<path d="M278.3,1025.4 C282,1023.5 286,1022.3 289,1022.5 C294,1022.8 298,1026 304.3,1026.6 C312,1027 320,1026 328.4,1025.8" stroke="#23959a" stroke-width="1.6"/>
</g></svg>
<div class="abs" style="left:389px;top:981px;width:338px;height:44px;background:#1aacb4;border-radius:7px;box-shadow:0 0 0 2.5px #fafdfd;color:#fff;font-weight:bold;font-size:21px;line-height:44px;text-align:center"><span style="display:inline-block;transform:scaleX(0.953);-webkit-text-stroke:0.5px #fff">SERVICIO PROFESIONAL</span></div>
<div class="abs" style="left:758px;top:980px;font-size:35px;line-height:46px;color:#1a1f15;white-space:nowrap;letter-spacing:1.2px;transform:scaleX(1.052);transform-origin:left">Tratamiento en centros de desintoxicación en España.</div>
</body></html>
